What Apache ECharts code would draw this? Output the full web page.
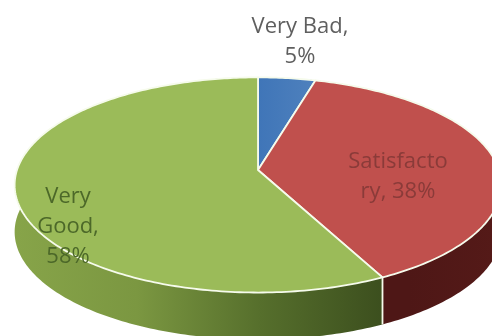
<!DOCTYPE html>
<html>
<head>
<meta charset="utf-8">
<style>
html,body{margin:0;padding:0;background:#fff;overflow:hidden}
#c{width:492px;height:336px;filter:blur(0.7px)}
</style>
<script src="https://cdn.jsdelivr.net/npm/echarts@6/dist/echarts.min.js"></script>
</head>
<body>
<div id="c"></div>
<script>
const categories = ['Very Bad', 'Satisfactory', 'Very Good'];
const values = [5, 38, 58];
const labelLines = ['Very Bad,\n5%', 'Satisfacto\nry, 38%', 'Very\nGood,\n58%'];

const topColors = [
  ['#3f75b8', '#4f81bd'],
  ['#c0504d', '#c0504d'],
  ['#9bbb59', '#9bbb59']
];
const sideColors = [
  ['#2c4d7a', '#2c4d7a'],
  ['#4e1716', '#4e1716', '#551a18'],
  ['#87a449', '#7b9741', '#566f2c', '#3c4f1e']
];
const labelColors = ['#5f5f5f', '#8a3b39', '#4c6829'];
const labelAnchors = [[300, 42], [398, 177], [68, 227]];

const cx = 258, cy = 170, rx = 241, ry = 105.5, k = 0.139, depth = 47, warp = 0.126;
const total = values.reduce((a, b) => a + b, 0);

function project(theta) {
  const t = theta - warp * Math.sin(theta) * (1 + Math.cos(theta)) / 2;
  const u = Math.sin(t), v = -Math.cos(t), w = 1 - k * v;
  return [cx + rx * u / w, cy + ry * v / w];
}
function arc(a0, a1) {
  const pts = [], n = Math.max(8, Math.ceil((a1 - a0) * 60));
  for (let i = 0; i <= n; i++) pts.push(project(a0 + (a1 - a0) * i / n));
  return pts;
}
function grad(c) {
  return new echarts.graphic.LinearGradient(0, 0, 1, 0,
    c.map((color, i) => ({ offset: i / (c.length - 1), color })));
}

const chart = echarts.init(document.getElementById('c'), null, { renderer: 'canvas' });
chart.setOption({
  animation: false,
  series: [{
    type: 'custom',
    coordinateSystem: 'none',
    silent: true,
    data: values.map((v, i) => ({ name: categories[i], value: [v] })),
    renderItem(params, api) {
      const i = params.dataIndex;
      const before = values.slice(0, i).reduce((a, b) => a + b, 0);
      const a0 = before / total * Math.PI * 2;
      const a1 = (before + api.value(0)) / total * Math.PI * 2;
      const rim = arc(a0, a1);
      const lower = rim.slice().reverse().map(p => [p[0], p[1] + depth]);
      const children = [];
      children.push({
        type: 'polygon', z2: 1,
        shape: { points: rim.concat(lower) },
        style: { fill: grad(sideColors[i]) }
      });
      children.push({
        type: 'polygon', z2: 2,
        shape: { points: [[cx, cy]].concat(rim) },
        style: { fill: grad(topColors[i]), stroke: '#f6fbec', lineWidth: 1.8, lineJoin: 'round' }
      });
      const end = project(a1);
      if (-Math.cos(a1) > 0) {
        children.push({
          type: 'line', z2: 3,
          shape: { x1: end[0], y1: end[1], x2: end[0], y2: end[1] + depth },
          style: { stroke: '#f6fbec', lineWidth: 1.8 }
        });
      }
      children.push({
        type: 'text', z2: 5,
        x: labelAnchors[i][0], y: labelAnchors[i][1],
        style: {
          text: labelLines[i],
          fill: labelColors[i],
          font: '22px "Open Sans", sans-serif',
          lineHeight: 30,
          align: 'center',
          verticalAlign: 'middle'
        }
      });
      return { type: 'group', children };
    }
  }]
});
</script>
</body>
</html>
